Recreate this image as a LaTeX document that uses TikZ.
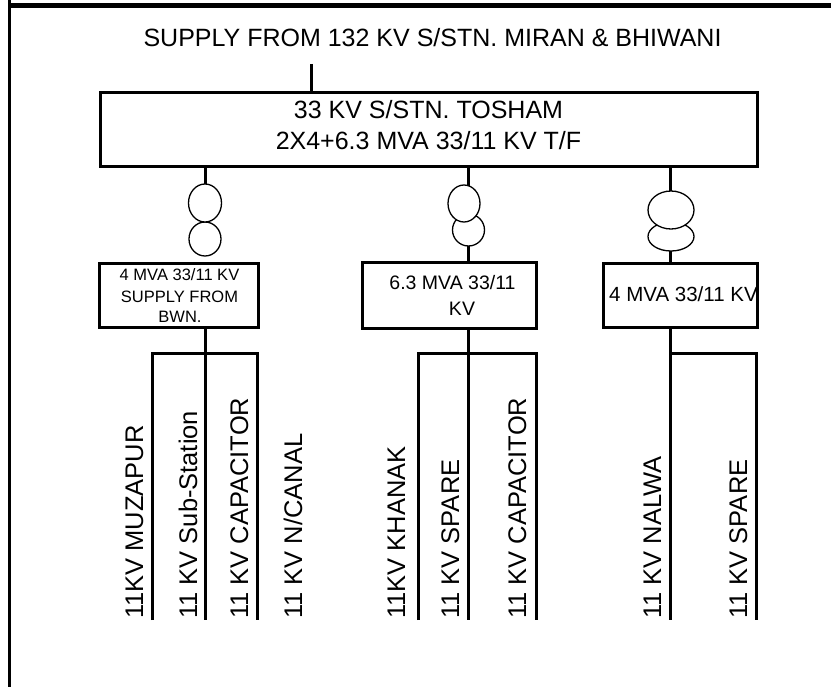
\documentclass[tikz,border=0pt]{standalone}
\usepackage{fontspec}
\setmainfont{Liberation Sans}
\usetikzlibrary{shapes.geometric}
\begin{document}
\begin{tikzpicture}[x=1pt,y=-1pt,
  wire/.style={line width=3pt},
  box/.style={draw, line width=3pt, inner sep=0pt},
  tf/.style={draw, ellipse, line width=1.3pt, inner sep=0pt, fill=white},
  big/.style={font=\fontsize{25}{30}\selectfont, inner sep=0pt},
  mid/.style={font=\fontsize{19.5}{24}\selectfont, inner sep=0pt},
  small/.style={font=\fontsize{16.5}{20}\selectfont, inner sep=0pt},
  lab/.style={font=\fontsize{25.5}{30}\selectfont, inner sep=0pt, rotate=90, anchor=base west}]
\useasboundingbox (0,0) rectangle (831,687);
% frame
\draw[line width=5.5pt] (8,5.5) -- (831,5.5);
\draw[line width=3pt] (9.5,0) -- (9.5,687);
% supply
\node[big, anchor=base] (supply) at (432.5,47) {SUPPLY FROM 132 KV S/STN. MIRAN \& BHIWANI};
\node[box, minimum width=657pt, minimum height=74pt] (main) at (428.5,130) {};
\node[big, anchor=base] (mainA) at (428.5,119) {33 KV S/STN. TOSHAM};
\node[big, anchor=base] (mainB) at (428.5,150) {2X4+6.3 MVA 33/11 KV T/F};
\coordinate (s1) at (311,64);
\draw[wire] (s1) -- (s1 |- main.north);
% boxes
\node[box, minimum width=159pt, minimum height=64pt] (box1) at (178.5,296) {};
\node[box, minimum width=174pt, minimum height=66pt] (box2) at (449,296) {};
\node[box, minimum width=154pt, minimum height=64pt] (box3) at (680,296) {};
\node[small, anchor=base] (b1A) at (179.5,281) {4 MVA 33/11 KV};
\node[small, anchor=base] (b1B) at (179.5,303) {SUPPLY FROM};
\node[small, anchor=base] (b1C) at (180,323) {BWN.};
\node[mid, anchor=base] (b2A) at (452.5,290) {6.3 MVA 33/11};
\node[mid, anchor=base] (b2B) at (462,316) {KV};
\begin{scope}
\clip (604.5,265.5) rectangle (755.5,326.5);
\node[mid, font=\fontsize{20.5}{24}\selectfont, anchor=base west] (b3A) at (609,302) {4 MVA 33/11 KV};
\end{scope}
% transformer positions
\coordinate (t1c) at (205,221);
\coordinate (t2c) at (468,220);
\coordinate (t3c) at (670,225);
% connectors main -> transformers -> boxes
\draw[wire] (main.south -| t1c) -- (t1c);
\draw[wire] (main.south -| t2c) -- (box2.north -| t2c);
\draw[wire] (main.south -| t3c) -- (box3.north -| t3c);
% transformers
\node[tf, minimum width=32pt, minimum height=34pt] (t1b) at (205,239) {};
\node[tf, minimum width=33pt, minimum height=38pt] (t1a) at (205,203) {};
\node[tf, minimum width=32pt, minimum height=32pt] (t2b) at (468.5,230) {};
\node[tf, minimum width=32pt, minimum height=37pt] (t2a) at (464,203.5) {};
\node[tf, minimum width=46pt, minimum height=29pt] (t3b) at (671,236.5) {};
\node[tf, minimum width=46pt, minimum height=38pt] (t3a) at (671,210) {};
% bus groups
\coordinate (g1m) at (205,620);
\coordinate (g1l) at (152,354);
\coordinate (g1r) at (257,354);
\draw[wire] (box1.south -| g1m) -- (g1m);
\draw[wire] (g1l |- g1m) -- (g1l) -- (g1r) -- (g1r |- g1m);
\coordinate (g2m) at (468,620);
\coordinate (g2l) at (418,354);
\coordinate (g2r) at (536,354);
\draw[wire] (box2.south -| g2m) -- (g2m);
\draw[wire] (g2l |- g2m) -- (g2l) -- (g2r) -- (g2r |- g2m);
\coordinate (g3m) at (670,620);
\coordinate (g3r) at (756,354);
\draw[wire] (box3.south -| g3m) -- (g3m);
\draw[wire] (g3m |- g3r) -- (g3r) -- (g3r |- g3m);
% feeder labels
\node[lab] (f1) at (143,619) {11KV MUZAPUR};
\node[lab] (f2) at (197,619) {11 KV Sub-Station};
\node[lab] (f3) at (248,619) {11 KV CAPACITOR};
\node[lab] (f4) at (302,619) {11 KV N/CANAL};
\node[lab] (f5) at (405,619) {11KV KHANAK};
\node[lab] (f6) at (459,619) {11 KV SPARE};
\node[lab] (f7) at (526,619) {11 KV CAPACITOR};
\node[lab] (f8) at (661,619) {11 KV NALWA};
\node[lab] (f9) at (747,619) {11 KV SPARE};
\end{tikzpicture}
\end{document}
